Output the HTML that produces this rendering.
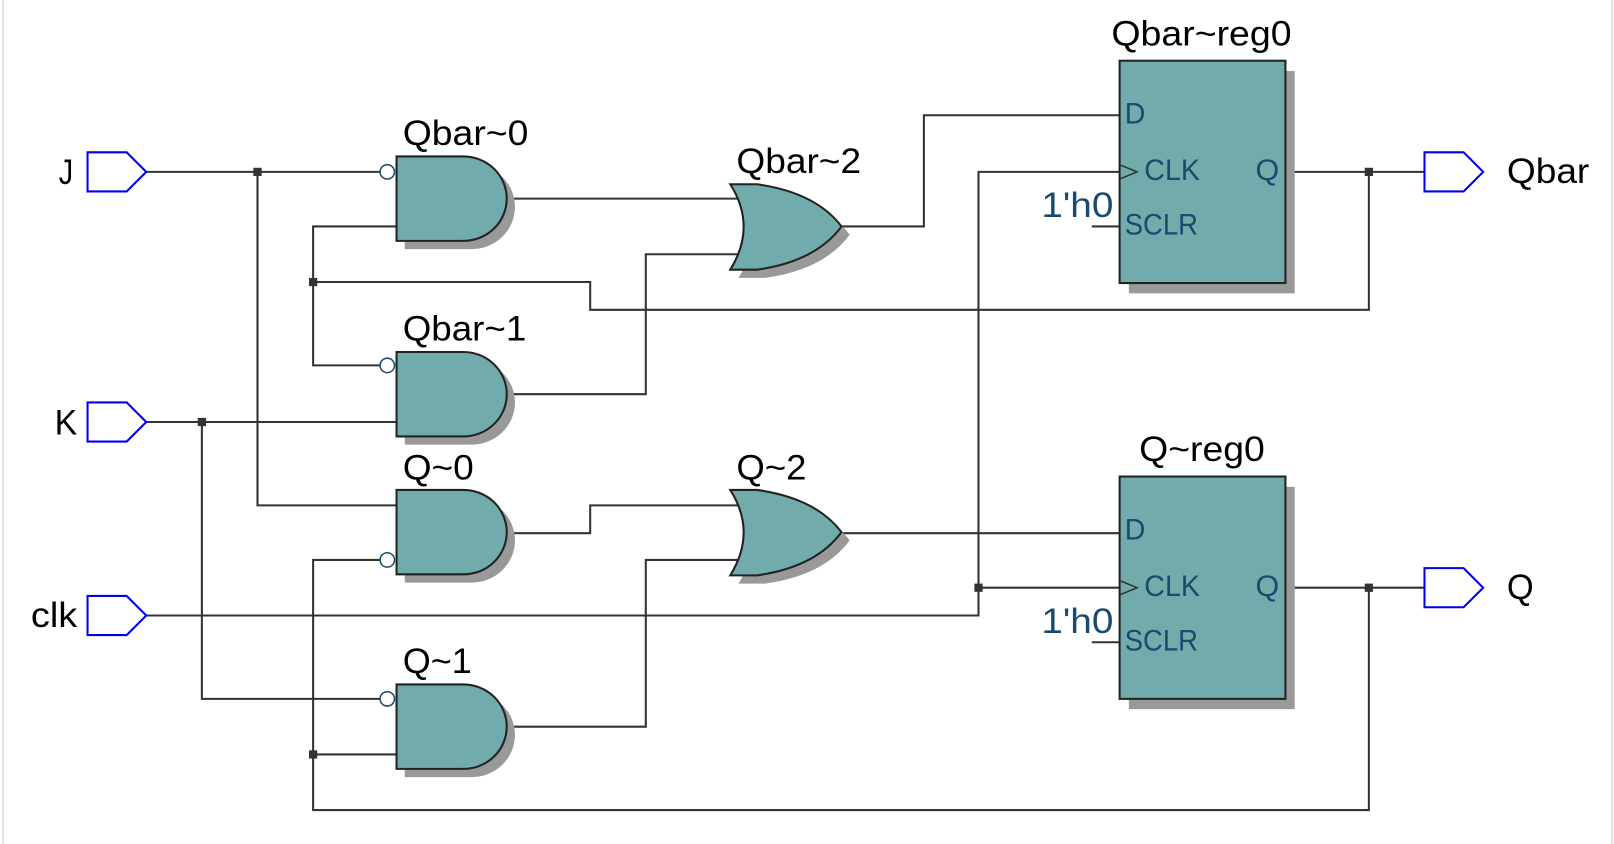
<!DOCTYPE html>
<html><head><meta charset="utf-8"><style>
html,body{margin:0;padding:0;background:#fff;}
svg{display:block;}
text{font-family:"Liberation Sans","DejaVu Sans",sans-serif;}
</style></head><body>
<svg width="1614" height="844" viewBox="0 0 1567 820" preserveAspectRatio="none" xmlns="http://www.w3.org/2000/svg">
<rect x="0" y="0" width="1567" height="820" fill="#fff"/>
<line x1="3" y1="0" x2="3" y2="820" stroke="#e4e4e4" stroke-width="2"/>
<line x1="1565" y1="0" x2="1565" y2="820" stroke="#e4e4e4" stroke-width="2"/>
<g fill="none" stroke="#333" stroke-width="2">
<polyline points="142,167 369,167"/>
<polyline points="250,167 250,491 385,491"/>
<polyline points="385,220 304,220 304,355 369,355"/>
<polyline points="304,274 573,274 573,301 1329,301 1329,167"/>
<polyline points="142,410 385,410"/>
<polyline points="196,410 196,679 369,679"/>
<polyline points="1329,571 1329,787 304,787 304,544 369,544"/>
<polyline points="304,733 385,733"/>
<polyline points="492,193 716,193"/>
<polyline points="492,383 627,383 627,247 720,247"/>
<polyline points="492,518 573,518 573,491 716,491"/>
<polyline points="492,706 627,706 627,544 720,544"/>
<polyline points="817,220 897,220 897,112 1087,112"/>
<polyline points="817,518 1087,518"/>
<polyline points="142,598 950,598 950,167 1087,167"/>
<polyline points="950,571 1087,571"/>
<polyline points="1248,167 1383,167"/>
<polyline points="1248,571 1383,571"/>
<polyline points="1060,220 1087,220"/>
<polyline points="1060,624 1087,624"/>
</g>
<g fill="#333">
<rect x="246" y="163" width="8" height="8"/>
<rect x="300" y="270" width="8" height="8"/>
<rect x="192" y="406" width="8" height="8"/>
<rect x="300" y="729" width="8" height="8"/>
<rect x="946" y="567" width="8" height="8"/>
<rect x="1325" y="163" width="8" height="8"/>
<rect x="1325" y="567" width="8" height="8"/>
</g>
<g stroke="#222" stroke-width="2">
<g>
<path d="M393,160 H458 A42,41 0 0 1 458,242 H393 Z" fill="#999" stroke="none"/>
<path d="M385,152 H450 A42,41 0 0 1 450,234 H385 Z" fill="#72abab"/>
</g>
<g transform="translate(0,190)">
<path d="M393,160 H458 A42,41 0 0 1 458,242 H393 Z" fill="#999" stroke="none"/>
<path d="M385,152 H450 A42,41 0 0 1 450,234 H385 Z" fill="#72abab"/>
</g>
<g transform="translate(0,324)">
<path d="M393,160 H458 A42,41 0 0 1 458,242 H393 Z" fill="#999" stroke="none"/>
<path d="M385,152 H450 A42,41 0 0 1 450,234 H385 Z" fill="#72abab"/>
</g>
<g transform="translate(0,513)">
<path d="M393,160 H458 A42,41 0 0 1 458,242 H393 Z" fill="#999" stroke="none"/>
<path d="M385,152 H450 A42,41 0 0 1 450,234 H385 Z" fill="#72abab"/>
</g>
<g>
<path d="M717,187 H743 Q800,195 825,228 Q800,262 743,270 H717 Q743,228 717,187 Z" fill="#999" stroke="none"/>
<path d="M709,179 H735 Q792,187 817,220 Q792,254 735,262 H709 Q735,220 709,179 Z" fill="#72abab"/>
</g>
<g transform="translate(0,297)">
<path d="M717,187 H743 Q800,195 825,228 Q800,262 743,270 H717 Q743,228 717,187 Z" fill="#999" stroke="none"/>
<path d="M709,179 H735 Q792,187 817,220 Q792,254 735,262 H709 Q735,220 709,179 Z" fill="#72abab"/>
</g>
<rect x="1096" y="69" width="161" height="216" fill="#999" stroke="none"/>
<rect x="1087" y="59" width="161" height="216" fill="#72abab"/>
<rect x="1096" y="473" width="161" height="216" fill="#999" stroke="none"/>
<rect x="1087" y="463" width="161" height="216" fill="#72abab"/>
</g>
<g fill="#fff" stroke="#1f4e6e" stroke-width="1.5">
<circle cx="376" cy="167" r="7"/>
<circle cx="376" cy="355" r="7"/>
<circle cx="376" cy="544" r="7"/>
<circle cx="376" cy="679" r="7"/>
</g>
<g fill="none" stroke="#333" stroke-width="1.5">
<polyline points="1087,160 1104,167 1087,174"/>
<polyline points="1087,564 1104,571 1087,578"/>
</g>
<g fill="#fff" stroke="#0000ee" stroke-width="2">
<polygon points="85,148 123,148 142,167 123,186 85,186"/>
<polygon points="85,391 123,391 142,410 123,429 85,429"/>
<polygon points="85,579 123,579 142,598 123,617 85,617"/>
<polygon points="1383,148 1421,148 1440,167 1421,186 1383,186"/>
<polygon points="1383,552 1421,552 1440,571 1421,590 1383,590"/>
</g>
<g font-size="34" fill="#000">
<text x="57" y="179" textLength="14" lengthAdjust="spacingAndGlyphs">J</text>
<text x="53" y="422" textLength="22" lengthAdjust="spacingAndGlyphs">K</text>
<text x="30" y="609" textLength="45" lengthAdjust="spacingAndGlyphs">clk</text>
<text x="1463" y="178" textLength="80" lengthAdjust="spacingAndGlyphs">Qbar</text>
<text x="1463" y="582" textLength="26" lengthAdjust="spacingAndGlyphs">Q</text>
<text x="391" y="141" textLength="122" lengthAdjust="spacingAndGlyphs">Qbar~0</text>
<text x="391" y="331" textLength="120" lengthAdjust="spacingAndGlyphs">Qbar~1</text>
<text x="391" y="466" textLength="69" lengthAdjust="spacingAndGlyphs">Q~0</text>
<text x="391" y="654" textLength="67" lengthAdjust="spacingAndGlyphs">Q~1</text>
<text x="715" y="168" textLength="121" lengthAdjust="spacingAndGlyphs">Qbar~2</text>
<text x="715" y="466" textLength="68" lengthAdjust="spacingAndGlyphs">Q~2</text>
<text x="1079" y="44" textLength="175" lengthAdjust="spacingAndGlyphs">Qbar~reg0</text>
<text x="1106" y="448" textLength="122" lengthAdjust="spacingAndGlyphs">Q~reg0</text>
</g>
<g font-size="29" fill="#1a4a6e">
<text x="1092" y="120" textLength="20" lengthAdjust="spacingAndGlyphs">D</text>
<text x="1111" y="175" textLength="54" lengthAdjust="spacingAndGlyphs">CLK</text>
<text x="1219" y="175" textLength="23" lengthAdjust="spacingAndGlyphs">Q</text>
<text x="1092" y="228" textLength="71" lengthAdjust="spacingAndGlyphs">SCLR</text>
<text x="1092" y="524" textLength="20" lengthAdjust="spacingAndGlyphs">D</text>
<text x="1111" y="579" textLength="54" lengthAdjust="spacingAndGlyphs">CLK</text>
<text x="1219" y="579" textLength="23" lengthAdjust="spacingAndGlyphs">Q</text>
<text x="1092" y="632" textLength="71" lengthAdjust="spacingAndGlyphs">SCLR</text>
<text x="1011" y="211" font-size="34" textLength="70" lengthAdjust="spacingAndGlyphs">1'h0</text>
<text x="1011" y="615" font-size="34" textLength="70" lengthAdjust="spacingAndGlyphs">1'h0</text>
</g>
</svg>
</body></html>
